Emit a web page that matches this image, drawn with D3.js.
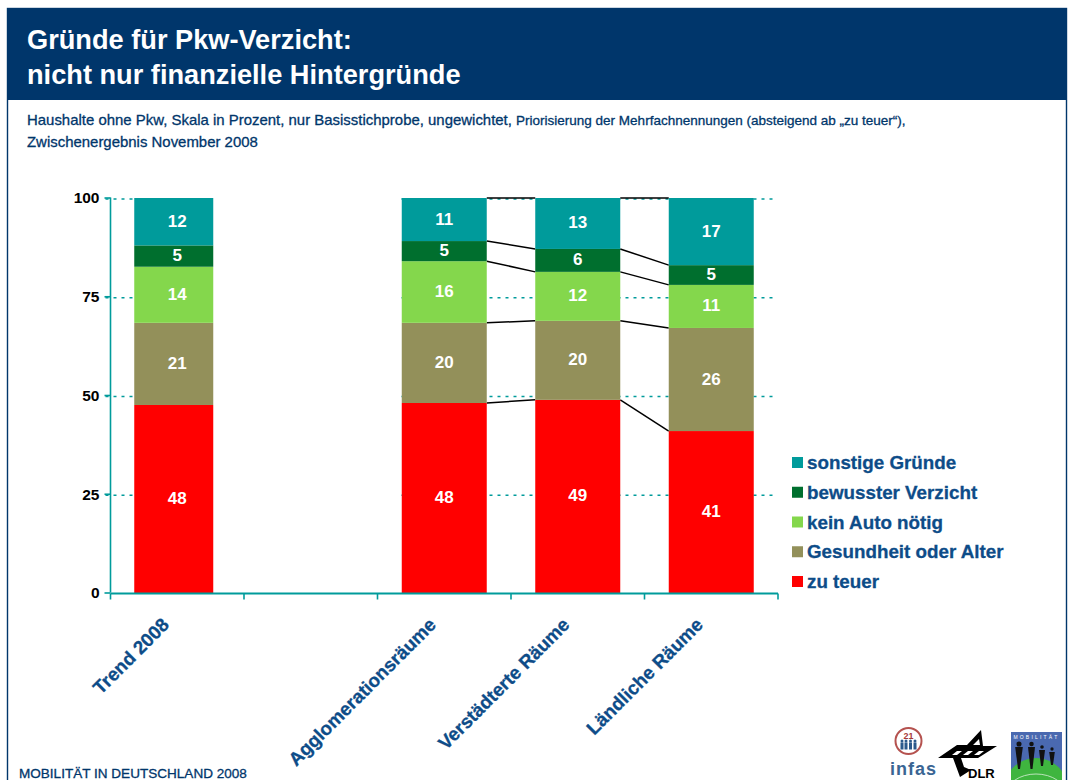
<!DOCTYPE html>
<html><head><meta charset="utf-8">
<script src="https://cdnjs.cloudflare.com/ajax/libs/d3/7.8.5/d3.min.js"></script>
<style>html,body{margin:0;padding:0;background:#fff;overflow:hidden}svg{display:block}text{font-family:"Liberation Sans",Arial,sans-serif}</style>
</head><body><svg id="c" width="1070" height="780"></svg>
<script>
const categories = ["Trend 2008", "", "Agglomerationsräume", "Verstädterte Räume", "Ländliche Räume"];
const seriesNames = ["zu teuer", "Gesundheit oder Alter", "kein Auto nötig", "bewusster Verzicht", "sonstige Gründe"];
const seriesColors = ["#ff0000", "#93905a", "#84d74c", "#006f2e", "#009b9b"];
const zuTeuer = [47.6, null, 48.1, 48.9, 41.0];
const gesundheit = [20.8, null, 20.3, 20.0, 26.1];
const keinAuto = [14.2, null, 15.6, 12.4, 10.9];
const bewusst = [5.4, null, 5.1, 5.8, 5.0];
const sonstige = [12.0, null, 10.9, 12.9, 17.0];
const yTicks = [0, 25, 50, 75, 100];
const titleLines = ["Gründe für Pkw-Verzicht:", "nicht nur finanzielle Hintergründe"];
const footer = "MOBILITÄT IN DEUTSCHLAND 2008";

const series = [zuTeuer, gesundheit, keinAuto, bewusst, sonstige];
const svg = d3.select("#c");
const navy = "#00366b", blue = "#0d4c88", teal = "#009b9b";

// frame + header
svg.append("rect").attr("x",7.5).attr("y",8.5).attr("width",1059).attr("height",790).attr("fill","none").attr("stroke",navy).attr("stroke-width",1.4);
svg.append("rect").attr("x",7).attr("y",9).attr("width",1060).attr("height",91).attr("fill",navy);
titleLines.forEach((t,i)=>svg.append("text").attr("x",27).attr("y",[49,84][i]).attr("fill","#fff").attr("font-size",27.2).attr("font-weight","bold").text(t));
const sub = svg.append("text").attr("x",27).attr("y",125).attr("fill",navy).attr("font-size",14.95).attr("stroke",navy).attr("stroke-width",0.3);
sub.append("tspan").text("Haushalte ohne Pkw, Skala in Prozent, nur Basisstichprobe, ungewichtet, ");
sub.append("tspan").attr("font-size",13.5).text("Priorisierung der Mehrfachnennungen (absteigend ab „zu teuer“),");
svg.append("text").attr("x",27).attr("y",147).attr("fill",navy).attr("font-size",14.95).attr("stroke",navy).attr("stroke-width",0.3).text("Zwischenergebnis November 2008");
svg.append("text").attr("x",19).attr("y",778).attr("fill",navy).attr("font-size",13.55).attr("stroke",navy).attr("stroke-width",0.3).text(footer);

// scales
const x = d3.scaleBand().domain(d3.range(categories.length)).range([110.5,778]).paddingInner(0).paddingOuter(0);
const y = d3.scaleLinear().domain([0,100]).range([593,198]);
const barW = i => i===0 ? 79 : 85;
const barShift = i => i===0 ? -3.5 : 0;
const stacks = categories.map((c,i)=>{let s=0;return series.map((v,k)=>{const a=s;s+=v[i]||0;return {i,k,v:v[i],y0:a,y1:s};});});

// dotted gridlines (the original shows none across the empty gap)
const g = svg.append("g");
g.selectAll("line.grid").data(yTicks.slice(1)).join("line")
 .attr("x1",x.range()[0]-5).attr("x2",x.range()[1]-2).attr("y1",d=>y(d)+1).attr("y2",d=>y(d)+1)
 .attr("stroke",teal).attr("stroke-width",1.5).attr("stroke-dasharray","3 5");
g.append("rect").attr("x",213).attr("y",190).attr("width",188).attr("height",400).attr("fill","#fff");

// connectors
const withData = d3.range(categories.length).filter(i=>zuTeuer[i]!=null && i>=2);
for(let j=0;j<withData.length-1;j++){
  const a=withData[j],b=withData[j+1];
  series.forEach((_,k)=>{
    const ax=x(a)+x.bandwidth()/2+barW(a)/2, bx=x(b)+x.bandwidth()/2-barW(b)/2;
    g.append("line").attr("x1",ax).attr("x2",bx).attr("y1",y(stacks[a][k].y1)).attr("y2",y(stacks[b][k].y1)).attr("stroke","#000").attr("stroke-width",1.5);
  });
}

// bars
stacks.forEach((st,i)=>{ if(zuTeuer[i]==null) return;
  st.forEach(d=>{
    const cx=x(i)+x.bandwidth()/2;
    g.append("rect").attr("x",cx+barShift(i)-barW(i)/2).attr("width",barW(i)).attr("y",y(d.y1)).attr("height",y(d.y0)-y(d.y1)).attr("fill",seriesColors[d.k]);
    g.append("text").attr("x",cx).attr("y",y((d.y0+d.y1)/2)+5).attr("text-anchor","middle").attr("fill","#fff").attr("font-size",17).attr("font-weight","bold").text(Math.round(d.v));
  });
});

// axes
const yAxis = d3.axisLeft(y).tickValues(yTicks).tickSize(6).tickPadding(5);
const ya = svg.append("g").attr("transform","translate(110.5,-0.5)").call(yAxis);
ya.selectAll("path,line").attr("stroke",teal).attr("stroke-width",1.6);
ya.select(".domain").attr("d","M0,198V593");
ya.selectAll("text").attr("font-size",15.5).attr("font-weight","bold").attr("fill","#000").attr("dy","0.35em");
const xa = svg.append("g").attr("transform","translate(0,593.5)").call(d3.axisBottom(x).tickSize(0).tickFormat(""));
xa.select(".domain").attr("stroke",teal).attr("stroke-width",2).attr("d","M110.5,0H778");
xa.selectAll(".tick").remove();
const edges = d3.range(categories.length+1).map(i=>x.range()[0]+i*x.step());
xa.selectAll("line.tk").data(edges).join("line").attr("x1",d=>d).attr("x2",d=>d).attr("y1",0).attr("y2",6).attr("stroke",teal).attr("stroke-width",1.6);
categories.forEach((c,i)=>{ if(!c) return;
  svg.append("text").attr("transform",`translate(${x(i)+x.bandwidth()/2-15},${618}) rotate(-45)`).attr("text-anchor","end").attr("fill",blue).attr("stroke",blue).attr("stroke-width",0.3).attr("font-size",18.8).attr("font-weight","bold").attr("dy","0.6em").text(c);
});

// legend
const legendOrder = d3.range(seriesNames.length).reverse();
const lg = d3.scalePoint().domain(legendOrder).range([463,582]);
legendOrder.forEach(k=>{
  svg.append("rect").attr("x",792).attr("y",lg(k)-6).attr("width",11).attr("height",11).attr("fill",seriesColors[k]);
  svg.append("text").attr("x",807).attr("y",lg(k)+6).attr("fill",blue).attr("stroke",blue).attr("stroke-width",0.3).attr("font-size",18.8).attr("font-weight","bold").text(seriesNames[k]);
});

// logos (decoration)
const logo = svg.append("g");
// infas
logo.append("circle").attr("cx",908.5).attr("cy",741).attr("r",13).attr("fill","#fff").attr("stroke","#b5524f").attr("stroke-width",2);
logo.append("text").attr("x",908.5).attr("y",739).attr("text-anchor","middle").attr("fill","#a83a38").attr("font-size",9).attr("font-weight","bold").text("21");
[902,906,910.5,915].forEach(cx=>{
  logo.append("circle").attr("cx",cx).attr("cy",741).attr("r",1.5).attr("fill","#2c5a8c");
  logo.append("rect").attr("x",cx-1.5).attr("y",742.5).attr("width",3).attr("height",7).attr("fill","#2c5a8c");
});
logo.append("text").attr("transform","translate(890,775)").attr("fill","#3a6593").attr("font-size",18).attr("font-family","Liberation Serif").attr("font-weight","bold").attr("letter-spacing",1).text("infas");
// DLR
logo.append("path").attr("fill-rule","evenodd").attr("fill","#000")
 .attr("d","M938,758 L957,745 L967,745 L981,730 L983,746 L997,746 L978,758 L961,758 L964,767 L971,770 L960,777 L953,758 Z M973,745 L979,739 L980,745 Z M952,755 L957,751 L962,751 L957,755 Z M963,755 L968,751 L973,751 L968,755 Z M974,755 L979,751 L984,751 L979,755 Z");
logo.append("text").attr("x",968).attr("y",778).attr("fill","#000").attr("font-size",13).attr("font-weight","bold").text("DLR");
// Mobilität
const mobClip = logo.append("clipPath").attr("id","mob");
mobClip.append("rect").attr("x",1011).attr("y",732).attr("width",51).attr("height",48);
const mob = logo.append("g").attr("clip-path","url(#mob)");
mob.append("rect").attr("x",1011).attr("y",732).attr("width",51).attr("height",48).attr("fill","#4a69b0");
mob.append("ellipse").attr("cx",1036).attr("cy",790).attr("rx",32).attr("ry",32).attr("fill","#3fb53f");
mob.append("ellipse").attr("cx",1036).attr("cy",795).attr("rx",30).attr("ry",21).attr("fill","none").attr("stroke","#d8efd8").attr("stroke-width",0.8);
mob.append("text").attr("x",1036.5).attr("y",739).attr("text-anchor","middle").attr("fill","#fff").attr("font-size",5).attr("letter-spacing",2.2).text("MOBILITÄT");
[[1019,744,5.6,25],[1031.5,744,5,25],[1042,747,4,19],[1052,749,3.6,16]].forEach(([cx,top,w,h])=>{
  mob.append("circle").attr("cx",cx).attr("cy",top).attr("r",w/2.2).attr("fill","#111");
  mob.append("path").attr("fill","#111").attr("d",`M${cx-w/2-1},${top+3} L${cx+w/2+1},${top+3} L${cx+1},${top+h} L${cx-1},${top+h} Z`);
});
</script></body></html>
